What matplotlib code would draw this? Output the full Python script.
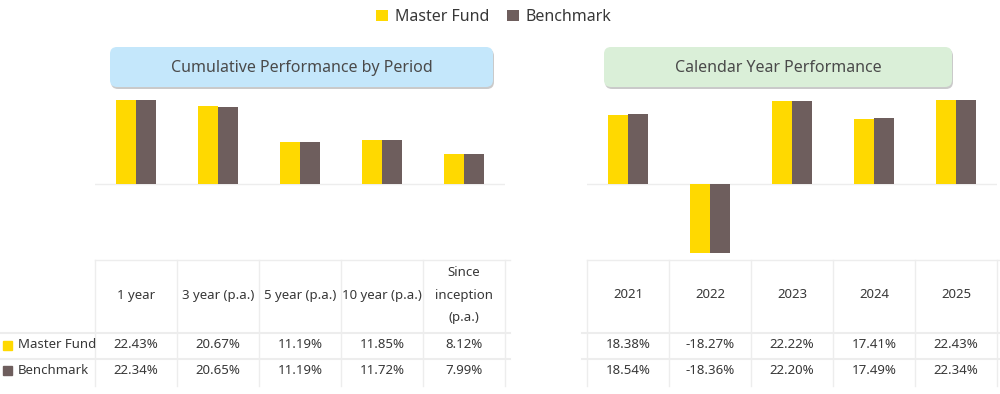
import numpy as np
import matplotlib
matplotlib.use('Agg')
import matplotlib.pyplot as plt
from matplotlib.patches import FancyBboxPatch, Rectangle

plt.rcParams['font.family'] = ['Noto Sans', 'DejaVu Sans']

# data
periods = ['1 year', '3 year (p.a.)', '5 year (p.a.)', '10 year (p.a.)', 'Since\ninception\n(p.a.)']
period_fund = [22.43, 20.67, 11.19, 11.85, 8.12]
period_bench = [22.34, 20.65, 11.19, 11.72, 7.99]

years = ['2021', '2022', '2023', '2024', '2025']
year_fund = [18.38, -18.27, 22.22, 17.41, 22.43]
year_bench = [18.54, -18.36, 22.20, 17.49, 22.34]

series_names = ['Master Fund', 'Benchmark']
colors = ['#FFD900', '#6E5E5D']
txt_color = '#383838'
grid_color = '#EDEDED'

W, H = 1000, 394
fig = plt.figure(figsize=(W / 100, H / 100), dpi=100)

# overlay in pixel coords (y down)
ov = fig.add_axes([0, 0, 1, 1], zorder=0)
ov.set_xlim(0, W)
ov.set_ylim(H, 0)
ov.axis('off')

def px_axes(x0, x1, ytop, ybot):
    return fig.add_axes([x0 / W, 1 - ybot / H, (x1 - x0) / W, (ybot - ytop) / H], zorder=2)

# bar panels: zero at y=184px, 3.75 px per %
ytop, ybot, yzero, scale = 95, 260, 184, 3.75
ylim = (-(ybot - yzero) / scale, (yzero - ytop) / scale)
bw = 0.24

panels = [
    (95, 505, periods, period_fund, period_bench, 'Cumulative Performance by Period', '#C4E7FB', (110, 493)),
    (587, 997, years, year_fund, year_bench, 'Calendar Year Performance', '#DAEFD8', (604, 952)),
]

for x0, x1, cats, fund, bench, title, tcol, (bx0, bx1) in panels:
    ax = px_axes(x0, x1, ytop, ybot)
    ax.patch.set_alpha(0)
    x = np.arange(len(cats))
    b1 = ax.bar(x - bw / 2, fund, bw, color=colors[0], label=series_names[0], zorder=3)
    b2 = ax.bar(x + bw / 2, bench, bw, color=colors[1], label=series_names[1], zorder=3)
    ax.axhline(0, color=grid_color, lw=1, zorder=1)
    ax.set_xlim(-0.5, len(cats) - 0.5)
    ax.set_ylim(*ylim)
    ax.axis('off')

    # title box with shadow
    ov.add_patch(FancyBboxPatch((bx0 + 1, 49), bx1 - bx0, 40, boxstyle='round,pad=0,rounding_size=7',
                                fc='#A8A8A8', ec='none', alpha=0.6, zorder=1))
    ov.add_patch(FancyBboxPatch((bx0, 47), bx1 - bx0, 40, boxstyle='round,pad=0,rounding_size=7',
                                fc=tcol, ec='none', zorder=2))
    ov.text((bx0 + bx1) / 2, 67.5, title, ha='center', va='center', fontsize=11.5, color='#4A4A4A', zorder=3)

    # table
    colw = (x1 - x0) / len(cats)
    centers = [x0 + colw * (i + 0.5) for i in range(len(cats))]
    for i in range(len(cats) + 1):
        ov.plot([x0 + colw * i] * 2, [260, 386], color=grid_color, lw=1)
    ov.plot([x0, x1 + 5], [260, 260], color=grid_color, lw=1)
    left = 0 if x0 < 300 else x0 - 5
    ov.plot([left, x1 + 5], [333, 333], color=grid_color, lw=1.5)
    ov.plot([left, x1 + 5], [359, 359], color=grid_color, lw=1.5)
    for c, cat, f, b in zip(centers, cats, fund, bench):
        ov.text(c, 295, cat, ha='center', va='center', fontsize=9.5, color=txt_color, linespacing=2.0)
        ov.text(c, 345, f'{f:.2f}%', ha='center', va='center', fontsize=9.5, color=txt_color)
        ov.text(c, 370, f'{b:.2f}%', ha='center', va='center', fontsize=9.5, color=txt_color)

# row labels
for yc, name, col in zip([345, 370], series_names, colors):
    ov.add_patch(Rectangle((3, yc - 4), 9, 9, color=col))
    ov.text(18, yc, name, ha='left', va='center', fontsize=9.5, color=txt_color)

# legend
fig.legend(handles=[b1, b2], loc='center', bbox_to_anchor=(0.494, 1 - 17 / H), ncol=2, frameon=False,
           fontsize=11.5, handlelength=0.75, handleheight=0.75, handletextpad=0.45, columnspacing=1.05,
           labelcolor=txt_color)

fig.savefig('out.png', dpi=100)
